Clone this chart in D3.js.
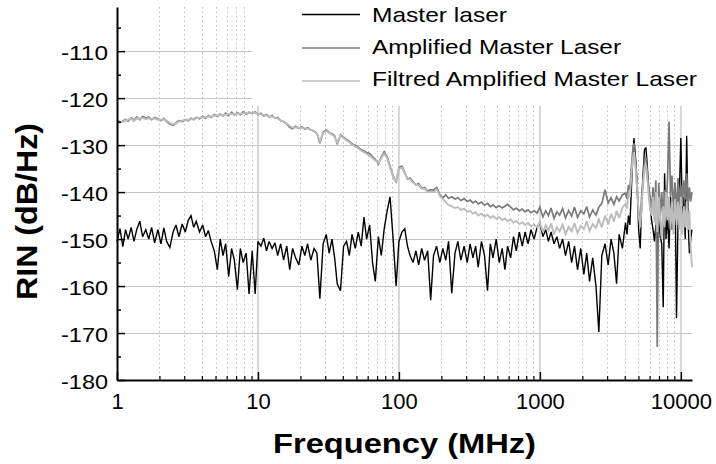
<!DOCTYPE html>
<html>
<head>
<meta charset="utf-8">
<script src="https://cdn.jsdelivr.net/npm/d3@7"></script>
<style>
  html, body { margin: 0; padding: 0; background: #ffffff; }
  svg { display: block; }
  text { font-family: "Liberation Sans", Arial, Helvetica, sans-serif; fill: #000; }
</style>
</head>
<body>
<script>
// ---------- DATA ----------
const freq = [
  1,1.05,1.1,1.15,1.2,1.26,1.32,1.38,1.45,1.52,1.6,1.68,1.76,1.85,1.95,2.05,2.15,2.25,2.37,2.5,2.62,2.75,2.9,3.05,3.2,3.35,3.5,3.65,3.85,4.05,4.25,4.45,4.65,4.9,5.15,5.4,5.65,5.9,6.2,6.5,6.8,7.15,7.5,7.85,8.25,8.65,9.1,9.55,
  10,10.5,11,11.5,12,12.6,13.2,13.8,14.5,15.2,16,16.8,17.6,18.5,19.5,20.5,21.5,22.5,23.7,25,26.2,27.5,29,30.5,32,33.5,35,36.5,38.5,40.5,42.5,44.5,46.5,49,51.5,54,56.5,59,62,65,68,71.5,75,78.5,82.5,86.5,91,95.5,
  100,105,110,115,120,126,132,138,145,152,160,168,176,185,195,205,215,225,237,250,262,275,290,305,320,335,350,365,385,405,425,445,465,490,515,540,565,590,620,650,680,715,750,785,825,865,910,955,
  1000,1050,1100,1150,1200,1260,1320,1380,1450,1520,1600,1680,1760,1850,1950,2050,2150,2250,2370,2500,2620,2750,2900,3050,3200,3350,3500,3650,3850,
  4050,4150,4250,4350,4450,4550,4650,4780,4900,5020,5150,5270,5400,5520,5650,5770,5900,6050,6200,6350,6500,6650,6800,6970,7150,7320,7500,7670,7850,8050,8250,8450,8650,8870,9100,9320,9550,9770,
  10000,10250,10500,10750,11000,11250,11500,11750,12000
];

const masterLaser = [
  -150.5,-147.8,-151.6,-148,-150,-147.5,-150.5,-148,-146.2,-149.5,-148,-150,-147.5,-150.8,-148,-151,-147.6,-150.5,-151.8,-148.5,-147,-149.5,-146.8,-148.5,-146,-145,-147.5,-146.2,-148.5,-147,-149.5,-148.2,-150.5,-152.5,-156.5,-150,-153.5,-151,-158,-152,-154.5,-160.8,-152,-155,-153,-161.7,-152.5,-161.7,
  -150.5,-151.5,-149.8,-152.5,-150.5,-152,-150.8,-153.5,-151,-154.5,-151.5,-156.5,-152,-154,-155.5,-151.5,-153.5,-151,-154.5,-152,-153,-162.7,-151,-149,-153,-150,-154,-159.5,-161,-151.5,-150.5,-153.5,-149,-152,-148.5,-151.5,-145.3,-150,-147,-155,-159,-149.5,-153.5,-148,-144,-141,-150,-160,
  -150.5,-148.5,-147.8,-151.5,-153.5,-155,-152.5,-155.5,-152,-154.5,-152.5,-163,-153.5,-151.5,-155,-152,-154.5,-150.5,-161.5,-153,-150.5,-154.5,-151.5,-155,-151,-154,-151.5,-156,-150.5,-153.5,-161,-151,-154,-150,-155,-152,-156.5,-151.5,-154,-149.5,-152.5,-148.5,-151.5,-148.5,-151,-148,-150,-147.5,
  -146.5,-149.5,-148,-150.5,-148.5,-151,-149.5,-152,-150,-153.5,-150.5,-155,-151.5,-156.5,-152,-157.5,-153,-159,-154,-160,-169.8,-153.5,-151,-155.5,-150,-153,-159.5,-149,-152,
  -146.5,-149,-145,-147,-140,-133,-128.5,-133,-138,-148,-152,-143,-136,-131,-130.5,-134,-139,-143,-146,-148,-150.5,-147,-152,-146,-149.5,-151,-164.5,-136,-150,-145,-152,-141,-148,-143,-138,-166.8,-146,-140,
  -128.5,-145,-141,-150,-128,-146,-153,-150,-148
];

const amplifiedMasterLaser = [
  -124.8,-125.2,-124.9,-124.5,-124.9,-124.2,-124.7,-124.0,-124.6,-123.9,-124.3,-124.0,-124.6,-124.1,-124.4,-124.8,-124.3,-125.0,-125.5,-125.8,-125.2,-124.8,-125.0,-124.6,-124.8,-124.3,-124.6,-124.1,-124.4,-123.9,-124.3,-123.7,-124.1,-123.5,-123.9,-123.4,-123.8,-123.2,-123.7,-123.0,-123.6,-123.1,-123.5,-122.9,-123.4,-123.0,-123.3,-122.9,
  -123.5,-123.2,-123.8,-123.5,-124.0,-123.7,-124.3,-124.1,-124.8,-125.0,-125.5,-126.2,-126.5,-126.0,-126.4,-126.1,-126.6,-126.3,-126.8,-127.0,-127.5,-129.6,-127.2,-126.8,-127.3,-127.6,-128.0,-129.8,-127.8,-128.3,-128.8,-129.2,-129.7,-130.0,-130.5,-131.0,-131.2,-131.6,-131.8,-132.5,-133.0,-134.0,-132.5,-131.4,-132.5,-134.5,-136.5,-138.0,
  -134.8,-134.5,-135.8,-137.2,-137.0,-137.8,-138.5,-138.2,-139.2,-139.0,-139.8,-139.5,-139.6,-139.0,-140.5,-141.2,-140.6,-141.3,-141.0,-141.5,-141.2,-141.8,-141.4,-142.0,-141.7,-142.3,-141.9,-142.5,-142.1,-142.8,-142.4,-143.1,-142.7,-143.3,-142.9,-143.4,-143.0,-142.6,-143.2,-143.8,-143.4,-144.0,-143.6,-144.2,-143.8,-144.4,-144.0,-144.5,
  -143.2,-145.3,-144.0,-145.0,-143.4,-145.6,-144.2,-144.9,-143.5,-145.5,-143.9,-145.1,-143.2,-145.4,-144.0,-144.6,-143.1,-145.3,-143.8,-144.9,-143.2,-142.4,-139.5,-142.3,-141.2,-142.6,-141.0,-141.9,-140.6,
  -140.2,-141.5,-138.5,-139.5,-135,-131.5,-129.6,-134,-140,-144,-146,-141,-137,-133,-132.5,-135.5,-138.5,-141,-143.5,-139,-144,-137.5,-173,-138,-145,-140,-146,-139.5,-143.5,-137,-125,-141,-136.5,-144,-138,-145,-137,-142,
  -138.5,-143,-137.5,-141.5,-136,-143,-139,-142,-140
];

const filtredAmplifiedMasterLaser = [
  -124.6,-125.0,-125.1,-124.7,-124.6,-124.4,-124.9,-124.3,-124.4,-124.2,-124.5,-124.3,-124.4,-124.3,-124.6,-124.6,-124.5,-124.8,-125.3,-125.6,-125.4,-125.0,-124.8,-124.7,-124.6,-124.5,-124.4,-124.3,-124.2,-124.1,-124.1,-123.9,-123.9,-123.7,-123.7,-123.6,-123.6,-123.5,-123.4,-123.3,-123.5,-123.3,-123.3,-123.2,-123.2,-123.2,-123.1,-123.1,
  -123.4,-123.4,-123.6,-123.7,-123.9,-123.9,-124.2,-124.3,-124.7,-125.1,-125.4,-125.9,-126.3,-126.2,-126.3,-126.3,-126.5,-126.5,-126.7,-127.1,-127.6,-129.2,-127.4,-127.0,-127.4,-127.8,-128.2,-129.5,-128.0,-128.5,-129.0,-129.4,-129.9,-130.3,-130.7,-131.2,-131.5,-131.9,-132.2,-132.8,-133.3,-133.8,-132.8,-131.8,-132.8,-134.8,-136.8,-137.8,
  -135.0,-134.8,-136.0,-137.0,-137.3,-138.0,-138.4,-138.5,-139.3,-139.3,-140.0,-139.9,-140.0,-139.4,-140.8,-141.5,-142.2,-142.8,-143.0,-143.4,-143.2,-143.8,-143.5,-144.2,-144.0,-144.6,-144.3,-145.0,-144.6,-145.2,-144.8,-145.5,-145.1,-145.7,-145.3,-146.0,-145.6,-146.2,-145.8,-146.5,-146.1,-146.8,-146.4,-147.0,-146.6,-147.3,-146.9,-147.5,
  -146.4,-148.5,-147.0,-148.2,-146.7,-149.0,-147.5,-148.4,-146.9,-149.0,-147.4,-148.3,-146.6,-148.7,-147.2,-147.9,-146.2,-148.3,-146.8,-147.6,-145.8,-147.5,-145.0,-146.9,-144.6,-146.3,-144.0,-145.5,-143.3,
  -142.5,-143.5,-140.5,-141,-137,-133,-131.5,-135,-139,-145,-147.5,-143,-138.5,-135,-134,-137,-140.5,-143.5,-145,-141,-146.5,-140,-148.5,-141,-146,-150,-143,-147.5,-140,-146,-141,-148,-142,-149,-141.5,-147,-142,-148,
  -141,-149,-143,-147.5,-142,-148,-144,-152,-156
];

const seriesNames = ["Master laser", "Amplified Master Laser", "Filtred Amplified Master Laser"];
const seriesColors = ["#000000", "#7a7a7a", "#bcbcbc"];
const yMajorTicks = [-180, -170, -160, -150, -140, -130, -120, -110];
const yMinorTicks = [-175, -165, -155, -145, -135, -125, -115, -105];
const xMajorTicks = [1, 10, 100, 1000, 10000];
const xMinorTicks = [2,3,4,5,6,7,8,9, 20,30,40,50,60,70,80,90, 200,300,400,500,600,700,800,900, 2000,3000,4000,5000,6000,7000,8000,9000];
const xTitle = "Frequency (MHz)";
const yTitle = "RIN (dB/Hz)";

// ---------- CHART ----------
const W = 716, H = 464;
const svg = d3.select("body").append("svg").attr("width", W).attr("height", H);

const x = d3.scaleLog().domain([1, 12000]).range([117, 692]);
const y = d3.scaleLinear().domain([-180, -100.6]).range([380, 7]);

// grid
const grid = svg.append("g");
grid.selectAll(".vminor").data(xMinorTicks).join("line")
  .attr("x1", d => Math.round(x(d)) + 0.5).attr("x2", d => Math.round(x(d)) + 0.5)
  .attr("y1", y.range()[1]).attr("y2", y.range()[0])
  .attr("stroke", "#bdbdbd").attr("stroke-width", 1).attr("stroke-dasharray", "1.5,3");
grid.selectAll(".vmajor").data(xMajorTicks.slice(1)).join("line")
  .attr("x1", d => x(d)).attr("x2", d => x(d))
  .attr("y1", y.range()[1]).attr("y2", y.range()[0])
  .attr("stroke", "#d6d6d6").attr("stroke-width", 2);
grid.selectAll(".hmajor").data(yMajorTicks.slice(1)).join("line")
  .attr("x1", x.range()[0]).attr("x2", x.range()[1])
  .attr("y1", d => Math.round(y(d)) + 0.5).attr("y2", d => Math.round(y(d)) + 0.5)
  .attr("stroke", "#c4c4c4").attr("stroke-width", 1);

// series
const allSeries = [masterLaser, amplifiedMasterLaser, filtredAmplifiedMasterLaser];
const widths = [1.4, 1.7, 1.9];
const line = d3.line().x(d => x(d[0])).y(d => y(d[1]));
allSeries.forEach((vals, i) => {
  const pts = freq.map((f, j) => [f, vals[j]]);
  svg.append("path").datum(pts)
    .attr("d", line)
    .attr("fill", "none")
    .attr("stroke", seriesColors[i])
    .attr("stroke-width", widths[i])
    .attr("stroke-linejoin", "miter").attr("stroke-miterlimit", 3);
});

// legend (white box hides grid behind it)
const leg = svg.append("g");
leg.append("rect").attr("x", 252).attr("y", 0).attr("width", 450).attr("height", 106).attr("fill", "#fff");
const legY = [14.5, 48, 81];
const legBase = [22, 54, 86];
const legLen = [135, 249, 325];
seriesNames.forEach((n, i) => {
  leg.append("line").attr("x1", 302).attr("x2", 360).attr("y1", legY[i]).attr("y2", legY[i])
    .attr("stroke", seriesColors[i]).attr("stroke-width", 1.3);
  leg.append("text").attr("x", 372).attr("y", legBase[i]).text(n)
    .style("font-size", "21px")
    .attr("textLength", legLen[i]).attr("lengthAdjust", "spacingAndGlyphs");
});

// axes
const yAxis = svg.append("g").attr("transform", `translate(${x.range()[0]},0)`)
  .call(d3.axisLeft(y).tickValues(yMajorTicks).tickSize(-8).tickSizeOuter(0).tickPadding(9)
    .tickFormat(d => String(d)));
yAxis.select(".domain").attr("stroke", "#000").attr("stroke-width", 2);
yAxis.selectAll(".tick line").attr("stroke", "#000").attr("stroke-width", 1.5);
yAxis.selectAll(".tick text")
  .style("font-size", "21px").style("font-family", "Liberation Sans, Arial, sans-serif")
  .attr("dy", "0.40em")
  .attr("textLength", 47).attr("lengthAdjust", "spacingAndGlyphs");
svg.append("g").attr("transform", `translate(${x.range()[0]},0)`)
  .call(d3.axisLeft(y).tickValues(yMinorTicks).tickSize(-4).tickSizeOuter(0).tickFormat(""))
  .call(g => g.select(".domain").remove())
  .selectAll(".tick line").attr("stroke", "#000").attr("stroke-width", 1.5);

const xAxis = svg.append("g").attr("transform", `translate(0,${y.range()[0]})`)
  .call(d3.axisBottom(x).tickValues(xMajorTicks).tickSize(-8).tickSizeOuter(0).tickPadding(13)
    .tickFormat(d => String(d)));
xAxis.select(".domain").attr("stroke", "#000").attr("stroke-width", 2);
xAxis.selectAll(".tick line").attr("stroke", "#000").attr("stroke-width", 1.5);
xAxis.selectAll(".tick text")
  .style("font-size", "22px").style("font-family", "Liberation Sans, Arial, sans-serif");
svg.append("g").attr("transform", `translate(0,${y.range()[0]})`)
  .call(d3.axisBottom(x).tickValues(xMinorTicks).tickSize(-4).tickSizeOuter(0).tickFormat(""))
  .call(g => g.select(".domain").remove())
  .selectAll(".tick line").attr("stroke", "#000").attr("stroke-width", 1.2);

// titles
svg.append("text").attr("x", 404.5).attr("y", 453).attr("text-anchor", "middle")
  .style("font-size", "28px").style("font-weight", "bold")
  .attr("textLength", 263).attr("lengthAdjust", "spacingAndGlyphs")
  .text(xTitle);
svg.append("text").attr("transform", "translate(37,211.5) rotate(-90)").attr("text-anchor", "middle")
  .style("font-size", "30px").style("font-weight", "bold")
  .attr("textLength", 177).attr("lengthAdjust", "spacingAndGlyphs")
  .text(yTitle);
</script>
</body>
</html>
